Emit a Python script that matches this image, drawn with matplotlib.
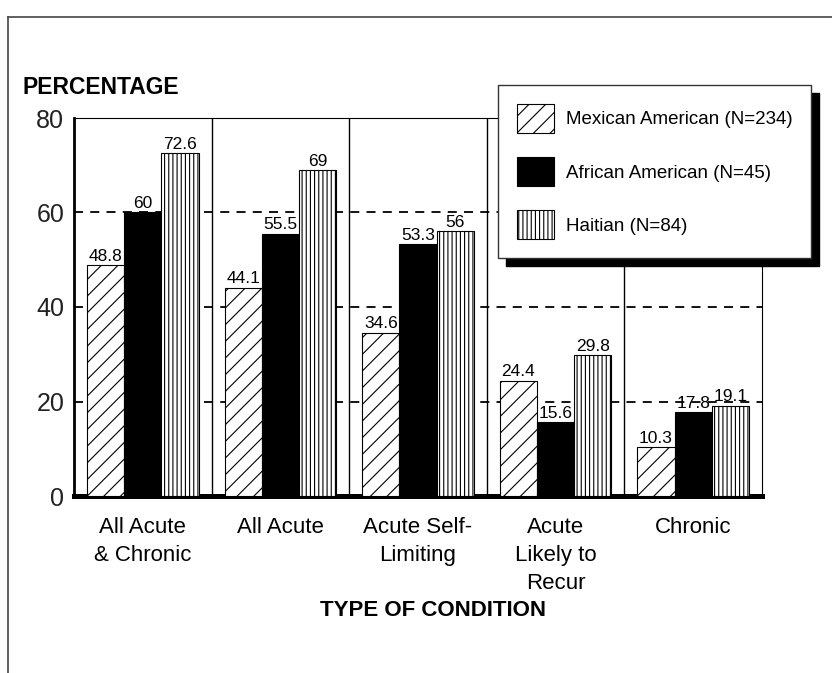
import matplotlib
matplotlib.use('Agg')
import matplotlib.pyplot as plt
import numpy as np

plt.rcParams['font.family'] = ['Liberation Sans', 'DejaVu Sans']
plt.rcParams['hatch.linewidth'] = 0.8

categories = ['All Acute\n& Chronic', 'All Acute', 'Acute Self-\nLimiting',
              'Acute\nLikely to\nRecur', 'Chronic']
series_names = ['Mexican American (N=234)', 'African American (N=45)', 'Haitian (N=84)']
mexican = [48.8, 44.1, 34.6, 24.4, 10.3]
african = [60, 55.5, 53.3, 15.6, 17.8]
haitian = [72.6, 69, 56, 29.8, 19.1]
value_labels = [['48.8', '44.1', '34.6', '24.4', '10.3'],
                ['60', '55.5', '53.3', '15.6', '17.8'],
                ['72.6', '69', '56', '29.8', '19.1']]
yticks = [0, 20, 40, 60, 80]

fig = plt.figure(figsize=(8.32, 6.73), dpi=100)
ax = fig.add_axes([74/832, 1-496/673, (762-74)/832, (496-118)/673])

x = np.arange(len(categories))
w = 0.27
styles = [dict(facecolor='white', hatch='//'),
          dict(facecolor='black', hatch=None),
          dict(facecolor='white', hatch='||||')]
for j, (vals, st) in enumerate(zip([mexican, african, haitian], styles)):
    bars = ax.bar(x + (j-1)*w, vals, w, edgecolor='black', linewidth=0.8,
                  label=series_names[j], zorder=3, **st)
    for b, lab in zip(bars, value_labels[j]):
        ax.annotate(lab, (b.get_x() + b.get_width()/2, b.get_height()),
                    xytext=(0, 1), textcoords='offset points',
                    ha='center', va='bottom', fontsize=12.5, zorder=4)

# dashed grid and group separators
for yv in [20, 40, 60]:
    ax.axhline(yv, color='black', lw=1.3, ls=(0, (5, 4)), zorder=1)
for xv in x[:-1] + 0.5:
    ax.axvline(xv, color='black', lw=1, zorder=2)

ax.set_xlim(-0.5, 4.5)
ax.set_ylim(0, 80)
ax.set_yticks(yticks)
ax.set_yticklabels([str(t) for t in yticks], fontsize=18, color='#222222')
ax.set_xticks(x)
ax.set_xticklabels(categories, fontsize=16, linespacing=1.45, va='top')
ax.tick_params(length=0)
ax.tick_params(axis='y', pad=7)
ax.tick_params(axis='x', pad=15)
ax.spines['bottom'].set_linewidth(3.6)
ax.spines['left'].set_linewidth(2)
ax.spines['top'].set_linewidth(0.8)
ax.spines['right'].set_linewidth(0.8)

fig.text(22/832, 1-88/673, 'PERCENTAGE', fontsize=16.5, fontweight='bold',
         va='center', ha='left')
fig.text(433/832, 1-611/673, 'TYPE OF CONDITION', fontsize=16, fontweight='bold',
         va='center', ha='center')

leg = fig.legend(loc='upper left', bbox_to_anchor=(498/832, 1-85/673),
                 fontsize=13.5, frameon=True, fancybox=False,
                 handlelength=2.0, handleheight=2.0, labelspacing=1.3,
                 borderpad=1.0, handletextpad=0.6, borderaxespad=0,
                 shadow={'ox': 6, 'oy': -6, 'facecolor': 'black',
                         'edgecolor': 'black', 'alpha': 1})
leg.get_frame().set_edgecolor('#333333')
leg.get_frame().set_linewidth(1)
leg.get_frame().set_alpha(1)

# outer frame
fig.add_artist(plt.Line2D([8/832, 1], [1-17/673, 1-17/673], color='#444444', lw=1.2))
fig.add_artist(plt.Line2D([8/832, 8/832], [0, 1-17/673], color='#444444', lw=1.2))

fig.savefig('out.png', dpi=100)
